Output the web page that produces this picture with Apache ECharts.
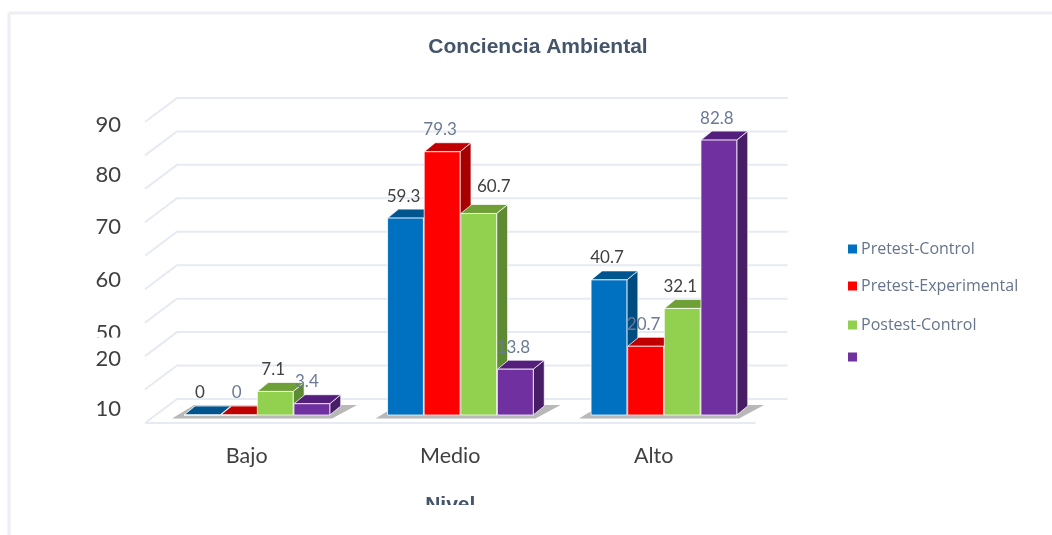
<!DOCTYPE html>
<html><head><meta charset="utf-8">
<style>html,body{margin:0;padding:0;background:#fff}#c{width:1052px;height:535px}</style>
<script src="https://cdn.jsdelivr.net/npm/echarts@6/dist/echarts.min.js"></script>
</head><body><div id="c"></div>
<script>
const categories = ['Bajo', 'Medio', 'Alto'];
const pretestControl = [0, 59.3, 40.7];
const pretestExperimental = [0, 79.3, 20.7];
const postestControl = [7.1, 60.7, 32.1];
const fourthSeries = [3.4, 13.8, 82.8];
const gridTicks = [0, 10, 20, 30, 40, 50, 60, 70, 80, 90];
const tickLabels = ['10', '20', '50', '60', '70', '80', '90'];
const tickLabelAt = [4.2, 19.3, 27.1, 43.1, 59, 74.7, 89.76];

const seriesDefs = [
  {name: 'Pretest-Control', values: pretestControl, front: '#0070C0', side: '#004B80', top: '#00558F', label: '#404040'},
  {name: 'Pretest-Experimental', values: pretestExperimental, front: '#FF0000', side: '#A80000', top: '#C00000', label: '#6B7A94'},
  {name: 'Postest-Control', values: postestControl, front: '#92D050', side: '#5F8A34', top: '#6FA038', label: '#404040'},
  {name: ' ', values: fourthSeries, front: '#7030A0', side: '#471E66', top: '#541F7C', label: '#6B7A94'}
];
const legendTops = [236, 273, 312, 344];
const DX = 11, DY = -9, LIFT = 8;

function bars(s, def) {
  return function (params, api) {
    const i = api.value(0), v = api.value(1);
    const p = api.coord([i, v]), z = api.coord([i, 0]);
    const band = api.size([1, 0])[0];
    const w = band * 0.176;
    const x = p[0] - band * 0.308 + s * band * 0.18;
    const t = p[1] - LIFT, b = z[1] - LIFT;
    const stroke = {stroke: 'rgba(255,255,255,0.75)', lineWidth: 1};
    const nudge = (s === 2 && i === 1) ? 15 : (s === 3 && i === 0) ? -5 : -2;
    const kids = [
      {type: 'polygon', shape: {points: [[x + w, t], [x + w + DX, t + DY], [x + w + DX, b + DY], [x + w, b]]},
        style: Object.assign({fill: def.side}, stroke)},
      {type: 'polygon', shape: {points: [[x, t], [x + DX, t + DY], [x + w + DX, t + DY], [x + w, t]]},
        style: Object.assign({fill: def.top}, stroke)},
      {type: 'rect', shape: {x: x, y: t, width: w, height: b - t},
        style: Object.assign({fill: def.front}, stroke)},
      {type: 'text', style: {text: String(v), x: x + w / 2 + nudge, y: t - (s === 2 && i === 1 ? 27 : 22),
        fill: def.label, font: '17px Lato, sans-serif', align: 'center', verticalAlign: 'middle'}}
    ];
    return {type: 'group', children: kids};
  };
}

const shadowSeries = {
  type: 'custom', silent: true, z: 3,
  data: categories.map((c, i) => [i, 0]),
  encode: {x: 0, y: 1},
  renderItem(params, api) {
    const i = api.value(0);
    const z = api.coord([i, 0]);
    const band = api.size([1, 0])[0];
    const x0 = z[0] - band * 0.308, y = z[1] - LIFT;
    return {type: 'polygon', shape: {points: [[x0 - 12, y + 3.5], [x0 + 148, y + 3.5], [x0 + 173, y - 10], [x0 + 10, y - 10]]},
      style: {fill: '#B8B8B8'}};
  }
};

const wallSeries = {
  type: 'custom', silent: true, z: 1,
  data: gridTicks.map(v => [0, v]),
  encode: {x: 0, y: 1},
  renderItem(params, api) {
    const v = api.value(1);
    const c = params.coordSys;
    const y = api.coord([0, v])[1];
    const by = y - 24 - v * 0.025;
    const lineStyle = {stroke: '#E6EAF2', lineWidth: 2, fill: null};
    const kids = [{type: 'polyline', shape: {points: [[c.x, by + 24], [c.x + 32, by], [c.x + c.width + 32, by]]}, style: lineStyle}];
    if (v === 0) kids.push({type: 'line', shape: {x1: c.x, y1: y, x2: c.x + c.width, y2: y}, style: lineStyle});
    return {type: 'group', children: kids};
  }
};

const barSeries = seriesDefs.map((d, s) => ({
  type: 'custom', name: d.name, z: 5,
  itemStyle: {color: d.front},
  data: d.values.map((v, i) => [i, v]),
  encode: {x: 0, y: 1},
  renderItem: bars(s, d)
}));

const chart = echarts.init(document.getElementById('c'), null, {renderer: 'canvas'});
chart.setOption({
  animation: false,
  backgroundColor: '#fff',
  title: {text: 'Conciencia Ambiental', left: 533, top: 32, textAlign: 'center',
    textStyle: {fontFamily: 'Liberation Sans', fontWeight: 'bold', fontSize: 21, color: '#44546A'}},
  legend: seriesDefs.map((d, s) => ({
    orient: 'vertical', left: 843, top: legendTops[s], data: [d.name],
    icon: 'rect', itemWidth: 9, itemHeight: 9, itemGap: 0, selectedMode: false,
    textStyle: {fontFamily: 'Open Sans', fontSize: 16, color: '#66758C', padding: [0, 0, 0, -1]}
  })),
  grid: {left: 145, top: 124.2, width: 610.5, height: 298.8, containLabel: false},
  xAxis: {
    type: 'category', data: categories,
    axisLine: {show: false}, axisTick: {show: false},
    axisLabel: {margin: 22, fontFamily: 'Lato', fontSize: 21.5, color: '#404040'},
    name: 'Nivel', nameLocation: 'middle', nameGap: 72,
    nameTextStyle: {fontFamily: 'Liberation Sans', fontWeight: 'bold', fontSize: 21, color: '#44546A'}
  },
  yAxis: {
    type: 'value', min: 0, max: 90,
    axisLine: {show: false}, axisTick: {show: false}, splitLine: {show: false},
    axisLabel: {
      customValues: tickLabelAt, margin: 24, fontFamily: 'Lato', fontSize: 22, color: '#404040',
      formatter: v => tickLabels[tickLabelAt.indexOf(v)]
    }
  },
  graphic: [
    {type: 'rect', silent: true, z: 100, shape: {x: 90, y: 337.5, width: 40, height: 8}, style: {fill: '#fff'}},
    {type: 'rect', silent: true, z: 100, shape: {x: 400, y: 505, width: 100, height: 28}, style: {fill: '#fff'}},
    {type: 'line', silent: true, z: 100, shape: {x1: 9, y1: 13, x2: 1052, y2: 13}, style: {stroke: '#EDEEF3', lineWidth: 3}},
    {type: 'line', silent: true, z: 100, shape: {x1: 9, y1: 13, x2: 9, y2: 535}, style: {stroke: '#EDEEF6', lineWidth: 3}}
  ],
  series: [wallSeries, shadowSeries].concat(barSeries)
});
</script></body></html>
